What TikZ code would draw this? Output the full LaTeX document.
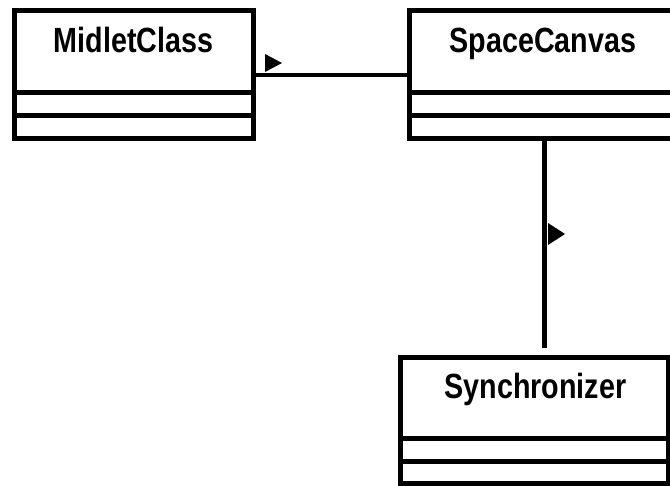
\documentclass[tikz,border=0pt]{standalone}
\usepackage{fontspec}
\setmainfont{Liberation Sans}
\usetikzlibrary{calc}
\tikzset{
  clsbox/.style={draw=black, line width=5pt, fill=white, rectangle, inner sep=0pt, outer sep=0pt},
  clslabel/.style={anchor=base, inner sep=0pt, font=\fontsize{35}{35}\selectfont\bfseries},
  divider/.style={draw=black, line width=5pt},
  assoc/.style={draw=black, line width=4.5pt},
  dirmark/.style={fill=black}
}
\newcommand{\narrowtxt}[1]{\scalebox{0.82}[1]{#1}}
\begin{document}
\begin{tikzpicture}[x=1pt, y=-1pt]
\useasboundingbox (0,0) rectangle (670,486);
\clip (0,0) rectangle (670,486);
\fill[white] (0,0) rectangle (670,486);

% classes
\node[clsbox, minimum width=239.5pt, minimum height=128pt] (MidletClass) at (133.75,75) {};
\node[clsbox, minimum width=269.5pt, minimum height=128pt] (SpaceCanvas) at (544.25,75) {};
\node[clsbox, minimum width=267.5pt, minimum height=126.5pt] (Synchronizer) at (534.25,420.75) {};

% labels
\node[clslabel] (MidletClassLabel) at (133.5,53) {\narrowtxt{MidletClass}};
\node[clslabel] (SpaceCanvasLabel) at (543,53) {\narrowtxt{SpaceCanvas}};
\node[clslabel] (SynchronizerLabel) at (535.5,398.5) {\narrowtxt{Synchronizer}};

% compartment dividers
\draw[divider] (MidletClass.west |- 0,93) -- (MidletClass.east |- 0,93);
\draw[divider] (MidletClass.west |- 0,116) -- (MidletClass.east |- 0,116);
\draw[divider] (SpaceCanvas.west |- 0,93) -- (SpaceCanvas.east |- 0,93);
\draw[divider] (SpaceCanvas.west |- 0,116) -- (SpaceCanvas.east |- 0,116);
\draw[divider] (Synchronizer.west |- 0,438.5) -- (Synchronizer.east |- 0,438.5);
\draw[divider] (Synchronizer.west |- 0,462) -- (Synchronizer.east |- 0,462);

% associations
\draw[assoc] (MidletClass.east) -- (SpaceCanvas.west);
\draw[assoc, shorten >=9.5pt] (SpaceCanvas.south) -- (SpaceCanvas.south |- Synchronizer.north);

% direction markers
\fill[dirmark] (265,54) -- (265,72) -- (282,63) -- cycle;
\fill[dirmark] (548,223) -- (548,245) -- (565,234) -- cycle;
\end{tikzpicture}
\end{document}
